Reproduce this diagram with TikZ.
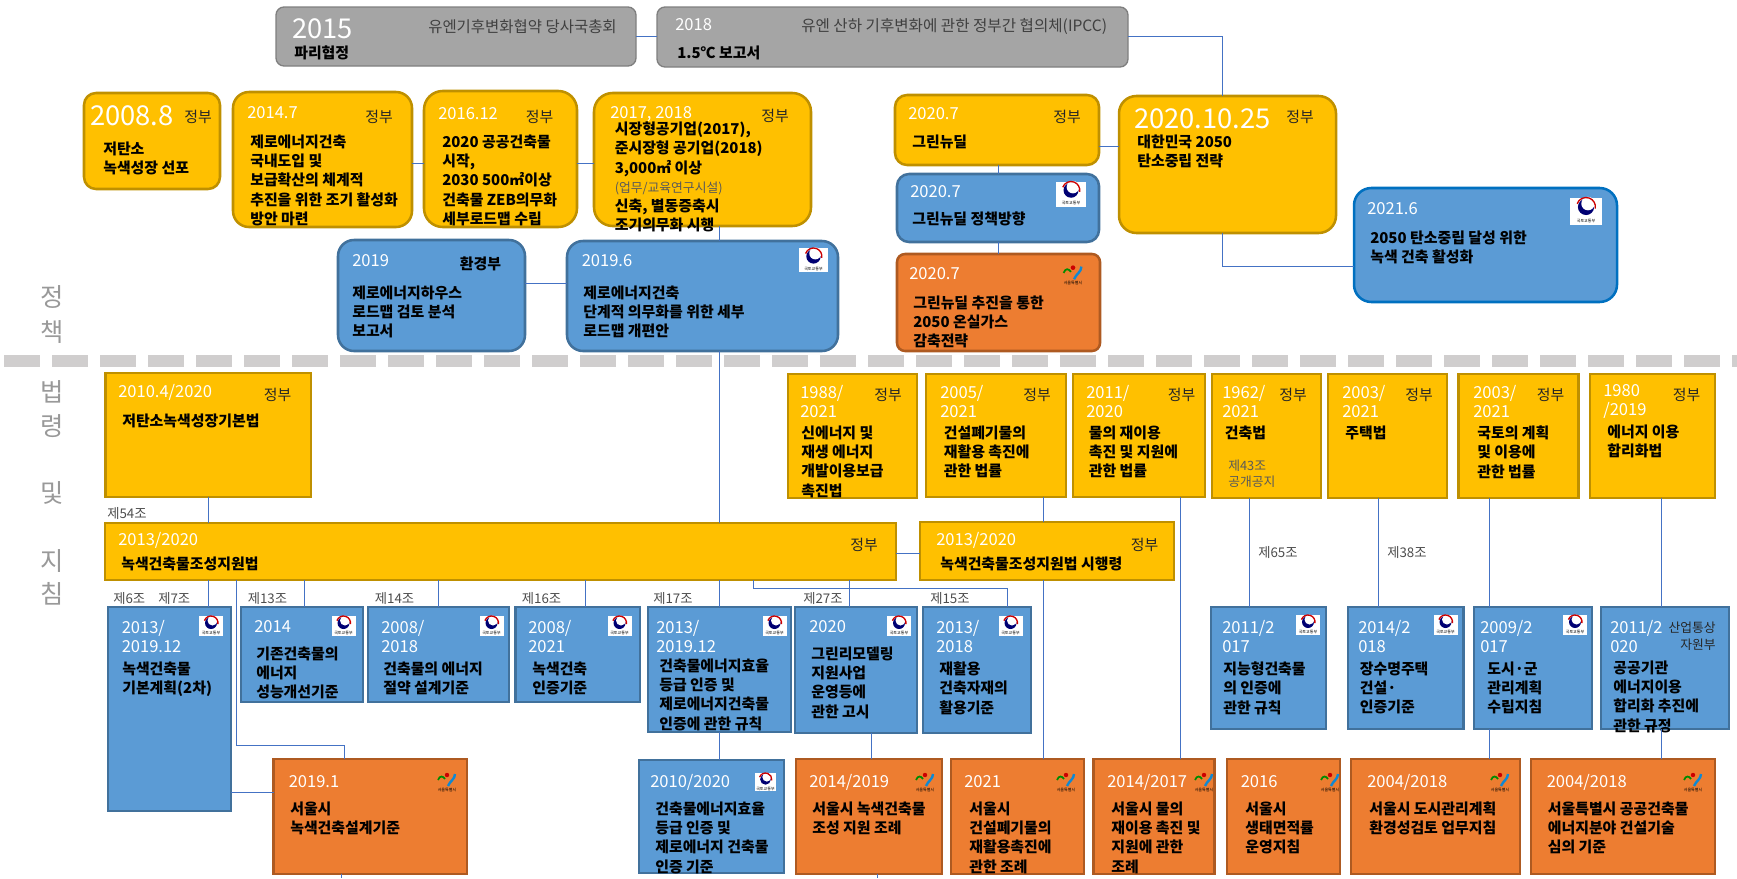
\documentclass[tikz,border=0pt]{standalone}
\usepackage{fontspec}
\setmainfont{Noto Sans CJK KR}
\definecolor{goldfill}{HTML}{FFC000}
\definecolor{goldline}{HTML}{BF9000}
\definecolor{bluefill}{HTML}{5B9BD5}
\definecolor{blueline}{HTML}{41719C}
\definecolor{darkline}{HTML}{0070C0}
\definecolor{orangefill}{HTML}{ED7D31}
\definecolor{orangeline}{HTML}{AE5A21}
\definecolor{grayfill}{HTML}{A5A5A5}
\definecolor{grayline}{HTML}{7F7F7F}
\definecolor{linkblue}{HTML}{4472C4}
\definecolor{sepgray}{HTML}{D0CECE}
\tikzset{
  corners/.style n args={4}{at={(#1,#2)}, anchor=north west, outer sep=0pt,
    minimum width={(#3-#1)*0.75pt}, minimum height={(#4-#2)*0.75pt}},
  goldbox/.style={draw=goldline, fill=goldfill, line width=1.9pt, inner sep=0pt},
  bluebox/.style={draw=blueline, fill=bluefill, line width=1.9pt, inner sep=0pt},
  orangebox/.style={draw=orangeline, fill=orangefill, line width=1.9pt, inner sep=0pt},
  graybox/.style={draw=grayline, fill=grayfill, line width=1pt, inner sep=0pt, rounded corners=6pt},
  datetext/.style={anchor=west, inner sep=0pt, align=left, text=white, font=\fontsize{12.4}{14.2}\selectfont},
  bigdate/.style={anchor=west, inner sep=0pt, text=white, font=\fontsize{20.5}{22}\selectfont},
  bodytext/.style={anchor=north west, inner sep=0pt, yshift=-2pt, align=left, text=black, font=\fontsize{11.2}{14.4}\selectfont\bfseries},
  agency/.style={anchor=west, inner sep=0pt, align=right, text=black!85, font=\fontsize{11.2}{14}\selectfont},
  article/.style={anchor=west, inner sep=0pt, align=left, text=black!70, font=\fontsize{10}{12}\selectfont},
  section/.style={anchor=center, inner sep=0pt, text=black!40, font=\fontsize{19}{20}\selectfont},
  link/.style={draw=linkblue, line width=0.75pt},
  govlogo/.pic={
    \fill[white] (-12,-10) rectangle (12,10);
    \fill[blue!45!black] (0,-3) circle (6);
    \fill[white] (1.5,-5.5) circle (5);
    \draw[red!80!black, line width=1pt] ([shift={(200:7)}]0,-3) arc (200:370:7);
    \node[inner sep=0pt, font=\fontsize{3}{3}\selectfont] (ministry) at (0,7.5) {국토교통부};
  },
  seoullogo/.pic={
    \draw[green!55!black, line width=1.3pt] (-9,-2) .. controls (-7,-7) and (-4,-6) .. (-2,-3);
    \fill[red!80!black] (0,-7) circle (2.2);
    \draw[cyan!70!blue, line width=1.8pt] (8,-8) .. controls (8,-3) and (3,-1) .. (1,4);
    \node[inner sep=0pt, font=\fontsize{3}{3}\selectfont] (city) at (0,8) {서울특별시};
  }
}
\begin{document}
\begin{tikzpicture}[x=0.75pt, y=-0.75pt]
  \useasboundingbox (0,0) rectangle (1737,878);

  % separator
  \draw[sepgray, line width=9pt, dash pattern=on 27pt off 9pt] (4,360.5) -- (1737,360.5);

  % section titles
  \node[section] (s1) at (52,297) {정};
  \node[section] (s2) at (52,332) {책};
  \node[section] (s3) at (52,392) {법};
  \node[section] (s4) at (52,426) {령};
  \node[section] (s5) at (52,493) {및};
  \node[section] (s6) at (52,561) {지};
  \node[section] (s7) at (52,594) {침};

  % international
  \node[graybox, corners={276}{7}{636}{66}] (paris) {};
  \node[bigdate] (parisd) at (292,29) {2015};
  \node[agency, text=black!75, font=\fontsize{11.6}{14}\selectfont] (parisa) at (428,27) {유엔기후변화협약 당사국총회};
  \node[bodytext] (parisb) at (294,43) {파리협정};
  \node[graybox, corners={657}{7}{1128}{67}] (ipcc) {};
  \node[datetext] (ipccd) at (675,25) {2018};
  \node[agency, text=black!75, font=\fontsize{11.7}{14}\selectfont] (ipcca) at (801,27) {유엔 산하 기후변화에 관한 정부간 협의체(IPCC)};
  \node[bodytext] (ipccb) at (677,43) {1.5℃ 보고서};

  % policy, top row
  \node[goldbox, rounded corners=9pt, corners={84}{93}{220}{189}] (p08) {};
  \node[bigdate] (p08d) at (90,116) {2008.8};
  \node[agency] (p08a) at (184,117) {정부};
  \node[bodytext] (p08b) at (103,139) {저탄소\\녹색성장 선포};
  \node[goldbox, rounded corners=12pt, corners={233}{92}{412}{227}] (p14) {};
  \node[datetext] (p14d) at (247,113) {2014.7};
  \node[agency] (p14a) at (365,117) {정부};
  \node[bodytext] (p14b) at (250,132) {제로에너지건축\\국내도입 및\\보급확산의 체계적\\추진을 위한 조기 활성화\\방안 마련};
  \node[goldbox, rounded corners=14pt, corners={424}{91}{577}{227}] (p16) {};
  \node[datetext] (p16d) at (438,114) {2016.12};
  \node[agency] (p16a) at (525.5,117) {정부};
  \node[bodytext] (p16b) at (442,132) {2020 공공건축물\\시작,\\2030 500㎡이상\\건축물 ZEB의무화\\세부로드맵 수립};
  \node[goldbox, rounded corners=14pt, corners={594}{93}{811}{226}] (p17) {};
  \node[datetext] (p17d) at (610,114) {2017, 2018};
  \node[agency] (p17a) at (761,116) {정부};
  \node[bodytext] (p17b) at (614.5,119) {시장형공기업(2017),\\준시장형 공기업(2018)\\3,000㎡ 이상\\{\mdseries\fontsize{9.6}{14.4}\selectfont\color{black!65}(업무/교육연구시설)}\\신축, 별동증축시\\조기의무화 시행};

  \node[bluebox, rounded corners=12pt, corners={338}{240}{525}{351}] (h19) {};
  \node[datetext] (h19d) at (352,261) {2019};
  \node[agency, text=black, font=\fontsize{11.2}{14}\selectfont\bfseries] (h19a) at (459.5,264) {환경부};
  \node[bodytext] (h19b) at (352,283) {제로에너지하우스\\로드맵 검토 분석\\보고서};
  \node[bluebox, rounded corners=12pt, corners={567}{241}{838}{351}] (r19) {};
  \node[datetext] (r19d) at (581.5,261) {2019.6};
  \pic[scale=1.2] at (813.5,260) {govlogo};
  \node[bodytext] (r19b) at (583,283) {제로에너지건축\\단계적 의무화를 위한 세부\\로드맵 개편안};

  \node[goldbox, rounded corners=9pt, corners={895}{95}{1099}{165}] (gn) {};
  \node[datetext] (gnd) at (908,114) {2020.7};
  \node[agency] (gna) at (1053,117) {정부};
  \node[bodytext] (gnb) at (912,132) {그린뉴딜};
  \node[bluebox, rounded corners=9pt, corners={897}{174}{1099}{242}] (gp) {};
  \node[datetext] (gpd) at (910,192) {2020.7};
  \pic[scale=1.25] at (1071,194) {govlogo};
  \node[bodytext] (gpb) at (912,209) {그린뉴딜 정책방향};
  \node[orangebox, rounded corners=6pt, corners={897}{254}{1100}{351}] (gs) {};
  \node[datetext] (gsd) at (909,274) {2020.7};
  \pic[scale=1.05] at (1073,275) {seoullogo};
  \node[bodytext] (gsb) at (913,293) {그린뉴딜 추진을 통한\\2050 온실가스\\감축전략};

  \node[goldbox, rounded corners=13pt, corners={1119}{96}{1336}{233}] (cn) {};
  \node[bigdate] (cnd) at (1134,119) {2020.10.25};
  \node[agency] (cna) at (1286,117) {정부};
  \node[bodytext] (cnb) at (1137,132) {대한민국 2050\\탄소중립 전략};
  \node[bluebox, draw=darkline, rounded corners=13pt, corners={1354}{188}{1617}{302}] (cg) {};
  \node[datetext] (cgd) at (1367,209) {2021.6};
  \pic[scale=1.35] at (1586,211) {govlogo};
  \node[bodytext] (cgb) at (1370,228) {2050 탄소중립 달성 위한\\녹색 건축 활성화};

  % acts
  \node[goldbox, corners={105.5}{373}{311}{497}] (l10) {};
  \node[datetext] (l10d) at (118,392) {2010.4/2020};
  \node[agency] (l10a) at (263.5,395) {정부};
  \node[bodytext] (l10b) at (122,411) {저탄소녹색성장기본법};
  \node[goldbox, corners={788}{374}{917}{498}] (l88) {};
  \node[datetext] (l88d) at (800,401.5) {1988/\\2021};
  \node[agency] (l88a) at (874,395) {정부};
  \node[bodytext] (l88b) at (801,423) {신에너지 및\\재생 에너지\\개발이용보급\\촉진법};
  \node[goldbox, corners={926}{374}{1066}{497}] (l05) {};
  \node[datetext] (l05d) at (940,401.5) {2005/\\2021};
  \node[agency] (l05a) at (1023,395) {정부};
  \node[bodytext] (l05b) at (943.5,423) {건설폐기물의\\재활용 촉진에\\관한 법률};
  \node[goldbox, corners={1073}{374}{1205}{497}] (l11) {};
  \node[datetext] (l11d) at (1086,401.5) {2011/\\2020};
  \node[agency] (l11a) at (1167.5,395) {정부};
  \node[bodytext] (l11b) at (1088.5,423) {물의 재이용\\촉진 및 지원에\\관한 법률};
  \node[goldbox, corners={1212}{374}{1321}{498}] (l62) {};
  \node[datetext] (l62d) at (1222,401.5) {1962/\\2021};
  \node[agency] (l62a) at (1279,395) {정부};
  \node[bodytext] (l62b) at (1224.5,423) {건축법};
  \node[article, text=black!65, font=\fontsize{9.6}{12}\selectfont] (l62c) at (1228,474) {제43조\\공개공지};
  \node[goldbox, corners={1328}{374}{1447}{498}] (l03) {};
  \node[datetext] (l03d) at (1342,401.5) {2003/\\2021};
  \node[agency] (l03a) at (1405,395) {정부};
  \node[bodytext] (l03b) at (1345,423) {주택법};
  \node[goldbox, corners={1458.5}{374}{1578.5}{498}] (ln3) {};
  \node[datetext] (ln3d) at (1473,401.5) {2003/\\2021};
  \node[agency] (ln3a) at (1536.5,395) {정부};
  \node[bodytext] (ln3b) at (1477,423) {국토의 계획\\및 이용에\\관한 법률};
  \node[goldbox, corners={1590}{374}{1715}{498}] (l80) {};
  \node[datetext] (l80d) at (1603,401.5) {1980\\/2019};
  \node[agency] (l80a) at (1672.5,395) {정부};
  \node[bodytext] (l80b) at (1607,422) {에너지 이용\\합리화법};

  \node[goldbox, corners={105}{523}{896}{580}] (ga) {};
  \node[datetext] (gad) at (118,540) {2013/2020};
  \node[agency] (gaa) at (850,545) {정부};
  \node[bodytext] (gab) at (121,554) {녹색건축물조성지원법};
  \node[goldbox, corners={920}{522}{1174}{580}] (gr) {};
  \node[datetext] (grd) at (936,540) {2013/2020};
  \node[agency] (gra) at (1130.5,545) {정부};
  \node[bodytext] (grb) at (940,554) {녹색건축물조성지원법 시행령};

  % ministry rules
  \node[bluebox, corners={108}{607}{231}{811}] (b1) {};
  \node[datetext] (b1d) at (121.5,636.5) {2013/\\2019.12};
  \pic at (211,626) {govlogo};
  \node[bodytext] (b1b) at (122,659) {녹색건축물\\기본계획(2차)};
  \node[bluebox, corners={241}{607}{363}{702}] (b2) {};
  \node[datetext] (b2d) at (254,627) {2014};
  \pic at (343.5,626) {govlogo};
  \node[bodytext] (b2b) at (256,644) {기존건축물의\\에너지\\성능개선기준};
  \node[bluebox, corners={368}{607}{509}{702}] (b3) {};
  \node[datetext] (b3d) at (381,636.5) {2008/\\2018};
  \pic at (491.5,626) {govlogo};
  \node[bodytext] (b3b) at (383,659) {건축물의 에너지\\절약 설계기준};
  \node[bluebox, corners={515.5}{607}{640}{702}] (b4) {};
  \node[datetext] (b4d) at (528,636.5) {2008/\\2021};
  \pic at (619.5,626) {govlogo};
  \node[bodytext] (b4b) at (532,659) {녹색건축\\인증기준};
  \node[bluebox, corners={648}{607}{791}{732}] (b5) {};
  \node[datetext] (b5d) at (656,636.5) {2013/\\2019.12};
  \pic at (774.5,626) {govlogo};
  \node[bodytext] (b5b) at (659,656) {건축물에너지효율\\등급 인증 및\\제로에너지건축물\\인증에 관한 규칙};
  \node[bluebox, corners={795}{607}{917}{733}] (b6) {};
  \node[datetext] (b6d) at (809,627) {2020};
  \pic at (899,626) {govlogo};
  \node[bodytext] (b6b) at (811,644) {그린리모델링\\지원사업\\운영등에\\관한 고시};
  \node[bluebox, corners={923}{607}{1031}{733}] (b7) {};
  \node[datetext] (b7d) at (936,636.5) {2013/\\2018};
  \pic at (1010.5,626) {govlogo};
  \node[bodytext] (b7b) at (939,659) {재활용\\건축자재의\\활용기준};
  \node[bluebox, corners={1211}{607}{1326}{729}] (b8) {};
  \node[datetext] (b8d) at (1222,636.5) {2011/2\\017};
  \pic at (1308,625) {govlogo};
  \node[bodytext] (b8b) at (1223,659) {지능형건축물\\의 인증에\\관한 규칙};
  \node[bluebox, corners={1348}{607}{1463.5}{729}] (b9) {};
  \node[datetext] (b9d) at (1358,636.5) {2014/2\\018};
  \pic at (1445.5,625) {govlogo};
  \node[bodytext] (b9b) at (1359.5,659) {장수명주택\\건설·\\인증기준};
  \node[bluebox, corners={1474}{607}{1592}{729}] (b10) {};
  \node[datetext] (b10d) at (1480,636.5) {2009/2\\017};
  \pic at (1575,625) {govlogo};
  \node[bodytext] (b10b) at (1487,659) {도시·군\\관리계획\\수립지침};
  \node[bluebox, corners={1601}{607}{1729}{729}] (b11) {};
  \node[datetext] (b11d) at (1610,636.5) {2011/2\\020};
  \node[agency, anchor=east, font=\fontsize{9.6}{13}\selectfont] (b11a) at (1716,636.5) {산업통상\\자원부};
  \node[bodytext] (b11b) at (1613,658) {공공기관\\에너지이용\\합리화 추진에\\관한 규정};

  % seoul rules
  \node[orangebox, corners={273.5}{759}{467}{874}] (o1) {};
  \node[datetext] (o1d) at (288.5,782) {2019.1};
  \pic at (447,782) {seoullogo};
  \node[bodytext] (o1b) at (290,799) {서울시\\녹색건축설계기준};
  \node[bluebox, corners={639}{760}{784}{873}] (b12) {};
  \node[datetext] (b12d) at (650,782) {2010/2020};
  \pic[scale=0.9] at (765.5,782) {govlogo};
  \node[bodytext] (b12b) at (655,799) {건축물에너지효율\\등급 인증 및\\제로에너지 건축물\\인증 기준};
  \node[orangebox, corners={796}{759}{942}{874}] (o2) {};
  \node[datetext] (o2d) at (809,782) {2014/2019};
  \pic at (925,782) {seoullogo};
  \node[bodytext] (o2b) at (812,799) {서울시 녹색건축물\\조성 지원 조례};
  \node[orangebox, corners={951}{759}{1084}{874}] (o3) {};
  \node[datetext] (o3d) at (964,782) {2021};
  \pic at (1066,782) {seoullogo};
  \node[bodytext] (o3b) at (969,799) {서울시\\건설폐기물의\\재활용촉진에\\관한 조례};
  \node[orangebox, corners={1093.5}{759}{1214.5}{874}] (o4) {};
  \node[datetext] (o4d) at (1107,782) {2014/2017};
  \pic at (1204,782) {seoullogo};
  \node[bodytext] (o4b) at (1111,799) {서울시 물의\\재이용 촉진 및\\지원에 관한\\조례};
  \node[orangebox, corners={1227}{759}{1340}{874}] (o5) {};
  \node[datetext] (o5d) at (1240.5,782) {2016};
  \pic at (1330,782) {seoullogo};
  \node[bodytext] (o5b) at (1245,799) {서울시\\생태면적률\\운영지침};
  \node[orangebox, corners={1351}{759}{1520}{874}] (o6) {};
  \node[datetext] (o6d) at (1367,782) {2004/2018};
  \pic at (1500,782) {seoullogo};
  \node[bodytext] (o6b) at (1369,799) {서울시 도시관리계획\\환경성검토 업무지침};
  \node[orangebox, corners={1531}{759}{1715}{874}] (o7) {};
  \node[datetext] (o7d) at (1546.5,782) {2004/2018};
  \pic at (1693,782) {seoullogo};
  \node[bodytext] (o7b) at (1547.5,799) {서울특별시 공공건축물\\에너지분야 건설기술\\심의 기준};

  % article numbers
  \node[article] (t54) at (107,513) {제54조};
  \node[article] (t6) at (113,598) {제6조};
  \node[article] (t7) at (158,598) {제7조};
  \node[article] (t13) at (247.5,598) {제13조};
  \node[article] (t14) at (374.6,598) {제14조};
  \node[article] (t16) at (521.6,598) {제16조};
  \node[article] (t17) at (653,598) {제17조};
  \node[article] (t27) at (803,598) {제27조};
  \node[article] (t15) at (930,598) {제15조};
  \node[article] (t65) at (1258,552) {제65조};
  \node[article] (t38) at (1387,552) {제38조};

  % connectors
  \draw[link] (paris.east |- 0,36) -- (ipcc.west |- 0,36);
  \draw[link] (ipcc.east |- 0,36) -- (1222,36) -- (cn.north -| 1222,0);
  \draw[link] (cn.south -| 1222,0) -- (1222,266) -- (cg.west |- 0,266);
  \draw[link] (gn.east |- 0,146.5) -- (cn.west |- 0,146.5);
  \draw[link] (gn.south -| 998,0) -- (gp.north -| 998,0);
  \draw[link] (gp.south -| 998.5,0) -- (gs.north -| 998.5,0);
  \draw[link] (p14.east |- 0,163) -- (p16.west |- 0,163);
  \draw[link] (p16.east |- 0,163) -- (p17.west |- 0,163);
  \draw[link] (p17.south -| 719,0) -- (r19.north -| 719,0);
  \draw[link] (h19.east |- 0,283.5) -- (r19.west |- 0,283.5);
  \draw[link] (r19.south -| 719,0) -- (ga.north -| 719,0);
  \draw[link] (l10.south -| 208.6,0) -- (ga.north -| 208.6,0);
  \draw[link] (ga.south -| 208.6,0) -- (b1.north -| 208.6,0);
  \draw[link] (ga.south -| 304,0) -- (b2.north -| 304,0);
  \draw[link] (ga.south -| 438,0) -- (b3.north -| 438,0);
  \draw[link] (ga.south -| 585,0) -- (b4.north -| 585,0);
  \draw[link] (ga.south -| 719,0) -- (b5.north -| 719,0);
  \draw[link] (ga.south -| 849,0) -- (b6.north -| 849,0);
  \draw[link] (ga.south -| 753,0) -- (753,588) -- (1007,588) -- (b7.north -| 1007,0);
  \draw[link] (ga.south -| 236,0) -- (236,745.7) -- (344.6,745.7) -- (o1.north -| 344.6,0);
  \draw[link] (b1.east |- 0,792) -- (o1.west |- 0,792);
  \draw[link] (o1.south -| 341,0) -- (341,878);
  \draw[link] (b5.south -| 719,0) -- (b12.north -| 719,0);
  \draw[link] (b6.south -| 871,0) -- (o2.north -| 871,0);
  \draw[link] (o2.south -| 877,0) -- (877,878);
  \draw[link] (ga.east |- 0,553) -- (gr.west |- 0,553);
  \draw[link] (l05.south -| 1043,0) -- (gr.north -| 1043,0);
  \draw[link] (gr.south -| 1043,0) -- (o3.north -| 1043,0);
  \draw[link] (l11.south -| 1180,0) -- (o4.north -| 1180,0);
  \draw[link] (l62.south -| 1249,0) -- (b8.north -| 1249,0);
  \draw[link] (l03.south -| 1378,0) -- (b9.north -| 1378,0);
  \draw[link] (ln3.south -| 1489,0) -- (b10.north -| 1489,0);
  \draw[link] (b10.south -| 1489,0) -- (o6.north -| 1489,0);
  \draw[link] (l80.south -| 1661,0) -- (b11.north -| 1661,0);
  \draw[link] (b11.south -| 1661,0) -- (o7.north -| 1661,0);
\end{tikzpicture}
\end{document}
